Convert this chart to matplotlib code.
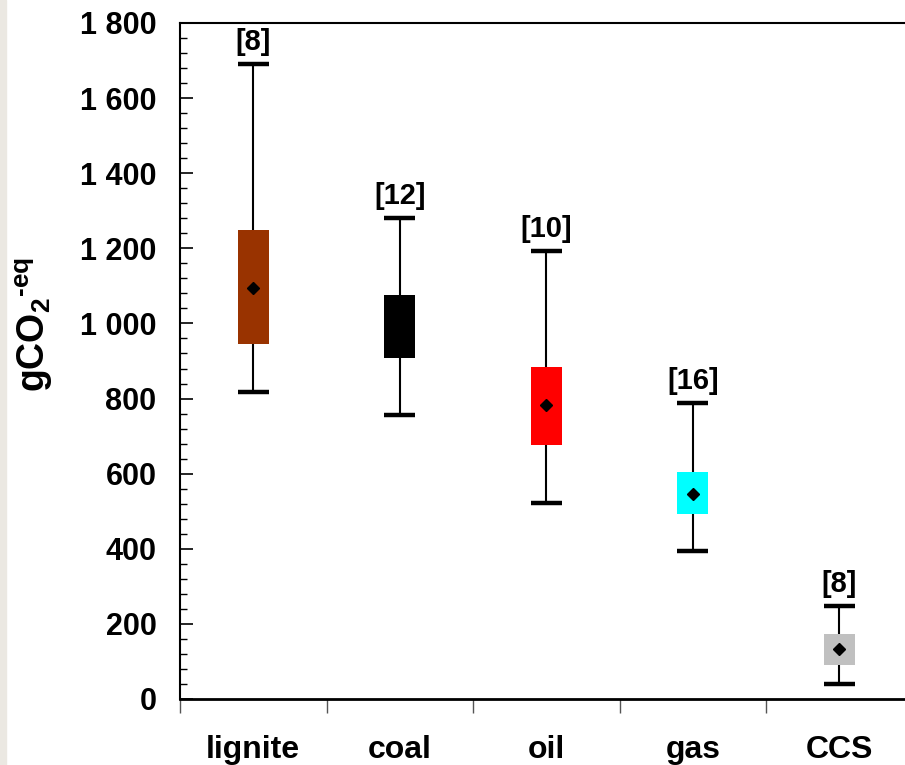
import numpy as np
import matplotlib
matplotlib.use('Agg')
import matplotlib.pyplot as plt
import matplotlib as mpl
from matplotlib.patches import Rectangle

mpl.rcParams['font.family'] = ['Liberation Sans', 'DejaVu Sans']
mpl.rcParams['font.weight'] = 'bold'
mpl.rcParams['mathtext.fontset'] = 'custom'
mpl.rcParams['mathtext.rm'] = 'Liberation Sans:bold'
mpl.rcParams['mathtext.it'] = 'Liberation Sans:bold'
mpl.rcParams['mathtext.bf'] = 'Liberation Sans:bold'
mpl.rcParams['mathtext.default'] = 'rm'

# values (gCO2-eq)
categories = ['lignite', 'coal', 'oil', 'gas', 'CCS']
whisker_low = [817, 756, 522, 394, 40]
box_low = [945, 908, 676, 493, 91]
box_high = [1250, 1076, 884, 604, 173]
whisker_high = [1690, 1281, 1193, 788, 248]
means = [1094, None, 783, 546, 133]
counts = ['[8]', '[12]', '[10]', '[16]', '[8]']
colors = ['#993300', '#000000', '#ff0000', '#00ffff', '#c0c0c0']

fig = plt.figure(figsize=(9.05, 7.65), dpi=100)
# the plot area runs a little past the right edge of the picture
ax = fig.add_axes([180/905, 66/765, 732.5/905, 676/765])

# light strip at the far left
fig.patches.append(Rectangle((0, 0), 6/905, 1, transform=fig.transFigure,
                             color='#ebe8e2', zorder=0))

box_w = 0.21
for i, cat in enumerate(categories):
    x = i + 0.5
    ax.vlines(x, whisker_low[i], whisker_high[i], color='k', lw=1.5, zorder=2)
    ax.hlines([whisker_low[i], whisker_high[i]], x - box_w/2, x + box_w/2,
              color='k', lw=3.2, zorder=2)
    ax.add_patch(Rectangle((x - box_w/2, box_low[i]), box_w,
                           box_high[i] - box_low[i], facecolor=colors[i],
                           edgecolor='none', zorder=3))
    if means[i] is not None:
        ax.plot(x, means[i], marker='D', color='k', ms=6, zorder=4)
    ax.annotate(counts[i], (x, whisker_high[i]), xytext=(0, 6),
                textcoords='offset points', ha='center', va='bottom',
                fontsize=21, fontweight='bold')

ax.set_xlim(0, 5)
ax.set_ylim(0, 1800)

ax.yaxis.set_major_locator(mpl.ticker.MultipleLocator(200))
ax.yaxis.set_minor_locator(mpl.ticker.MultipleLocator(40))
ax.yaxis.set_major_formatter(mpl.ticker.FuncFormatter(
    lambda v, p: '{:,.0f}'.format(v).replace(',', ' ')))
ax.tick_params(axis='y', which='major', direction='in', length=9, width=1.2,
               labelsize=22, pad=17)
ax.tick_params(axis='y', which='minor', direction='in', length=5, width=1.0)

ax.set_xticks(np.arange(0, 5))
ax.set_xticklabels([])
ax.set_xticks(np.arange(5) + 0.5, minor=True)
ax.set_xticklabels(categories, minor=True)
ax.tick_params(axis='x', which='major', direction='out', length=10, width=1.0,
               color='#555555')
ax.tick_params(axis='x', which='minor', length=0, labelsize=23, pad=26)
for lab in ax.get_yticklabels() + ax.get_xticklabels(minor=True):
    lab.set_fontweight('bold')

for s in ['left', 'top']:
    ax.spines[s].set_linewidth(1.5)
ax.spines['bottom'].set_linewidth(2.0)
ax.spines['right'].set_visible(False)

fig.text(34/905, 1 - 324/765, r'gCO$_2$$^{\text{-}eq}$', rotation=90,
         ha='center', va='center', fontsize=27, fontweight='bold')

fig.savefig('out.png', dpi=100)
